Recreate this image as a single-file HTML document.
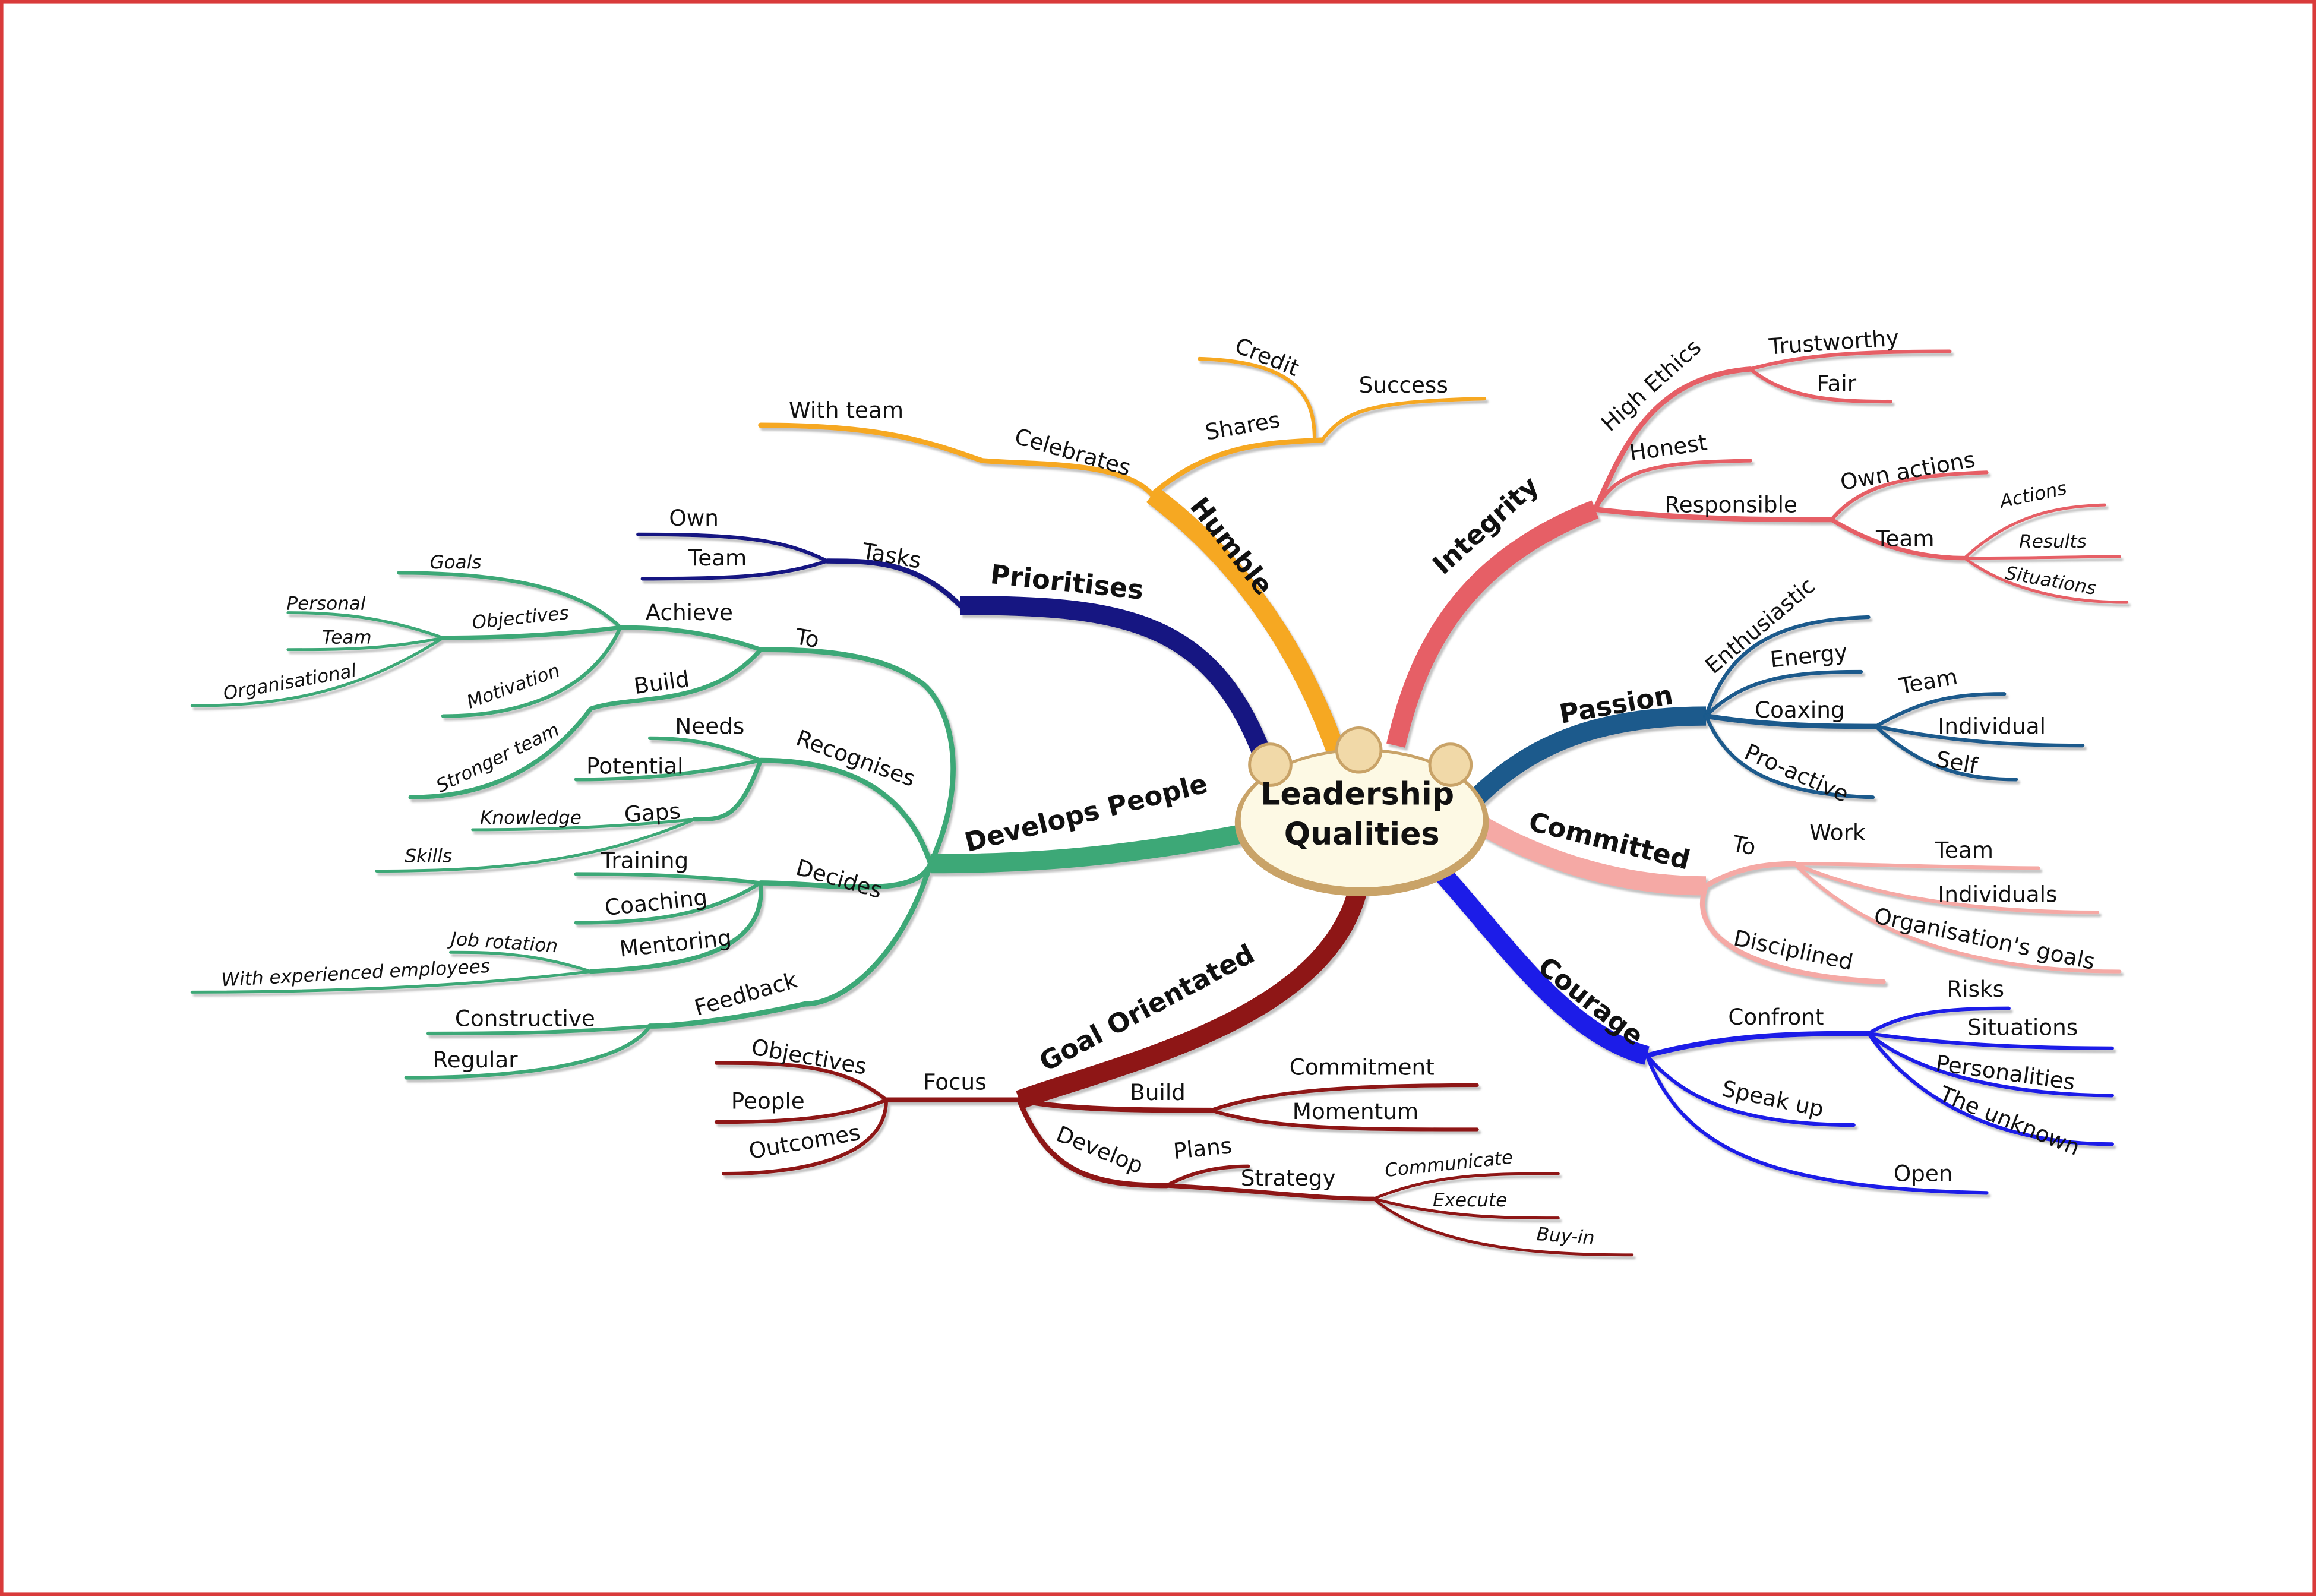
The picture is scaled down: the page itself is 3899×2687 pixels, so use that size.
<!DOCTYPE html>
<html><head><meta charset="utf-8"><style>
html,body{margin:0;padding:0;background:#fff}
svg{display:block}
text{font-family:"DejaVu Sans","Liberation Sans",sans-serif;fill:#111}
.m{font-weight:bold;font-size:18px}
.s{font-size:15px}
.i{font-size:12.5px;font-style:italic}
</style></head><body>
<svg width="3899" height="2687" viewBox="0 0 1568 1081" preserveAspectRatio="none" xmlns="http://www.w3.org/2000/svg">
<defs><filter id="ds" x="-5%" y="-5%" width="110%" height="110%"><feDropShadow dx="1.5" dy="2" stdDeviation="0.6" flood-color="#999" flood-opacity="0.6"/></filter></defs>
<rect x="1" y="1" width="1566" height="1079" fill="#fff" stroke="#d93a3a" stroke-width="2.5"/>
<g fill="none" stroke-linecap="round" filter="url(#ds)">
<!-- HUMBLE orange -->
<g stroke="#f6a823">
<path d="M905,510 C880,440 840,380 780,335" stroke-width="13" stroke-linecap="butt"/>
<path d="M780,335 C760,312 700,315 665,312 C630,300 600,288 515,288" stroke-width="3.5"/>
<path d="M780,335 C820,300 860,300 895,298" stroke-width="3.5"/>
<path d="M890,298 C890,270 880,245 812,243" stroke-width="2.5"/>
<path d="M895,298 C910,280 920,272 1005,270" stroke-width="2.5"/>
</g>
<!-- INTEGRITY red -->
<g stroke="#e65f66">
<path d="M945,505 C960,440 990,380 1080,345" stroke-width="13" stroke-linecap="butt"/>
<path d="M1080,345 C1100,300 1120,255 1185,250" stroke-width="3.5"/>
<path d="M1185,250 C1220,240 1260,238 1320,238" stroke-width="2.5"/>
<path d="M1185,250 C1210,270 1240,272 1280,272" stroke-width="2.5"/>
<path d="M1080,345 C1095,318 1120,313 1185,312" stroke-width="2.5"/>
<path d="M1080,345 C1140,352 1200,352 1240,352" stroke-width="3.5"/>
<path d="M1240,352 C1260,328 1290,322 1345,320" stroke-width="2.5"/>
<path d="M1240,352 C1270,370 1300,378 1330,378" stroke-width="3"/>
<path d="M1330,378 C1360,350 1390,343 1425,342" stroke-width="2"/>
<path d="M1330,378 C1380,378 1410,377 1435,377" stroke-width="2"/>
<path d="M1330,378 C1360,400 1400,408 1440,408" stroke-width="2"/>
</g>
<!-- PASSION -->
<g stroke="#1a5a8c">
<path d="M1000,540 C1040,500 1090,485 1155,485" stroke-width="13" stroke-linecap="butt"/>
<path d="M1155,485 C1170,440 1200,420 1265,418" stroke-width="2.5"/>
<path d="M1155,485 C1180,460 1210,455 1260,455" stroke-width="2.5"/>
<path d="M1155,485 C1200,492 1240,492 1270,492" stroke-width="3.5"/>
<path d="M1270,492 C1300,475 1320,470 1357,470" stroke-width="2.5"/>
<path d="M1270,492 C1320,502 1360,505 1410,505" stroke-width="2.5"/>
<path d="M1270,492 C1300,520 1330,528 1365,528" stroke-width="2.5"/>
<path d="M1155,485 C1170,520 1200,538 1268,540" stroke-width="2.5"/>
</g>
<!-- COMMITTED -->
<g stroke="#f5a9a5">
<path d="M1005,560 C1050,585 1100,600 1155,600" stroke-width="13" stroke-linecap="butt"/>
<path d="M1155,600 C1175,588 1195,585 1215,585" stroke-width="3.5"/>
<path d="M1215,585 C1260,585 1330,588 1380,588" stroke-width="2.5"/>
<path d="M1215,585 C1260,605 1330,618 1420,618" stroke-width="2.5"/>
<path d="M1215,585 C1260,630 1330,658 1435,658" stroke-width="2.5"/>
<path d="M1155,600 C1140,640 1200,662 1275,665" stroke-width="3.5"/>
</g>
<!-- COURAGE -->
<g stroke="#1b1be8">
<path d="M975,590 C1020,640 1060,700 1115,715" stroke-width="13" stroke-linecap="butt"/>
<path d="M1115,715 C1170,700 1220,700 1265,700" stroke-width="3.5"/>
<path d="M1265,700 C1290,685 1320,683 1360,683" stroke-width="2.5"/>
<path d="M1265,700 C1320,708 1380,710 1430,710" stroke-width="2.5"/>
<path d="M1265,700 C1300,730 1370,742 1430,742" stroke-width="2.5"/>
<path d="M1265,700 C1300,750 1360,775 1430,775" stroke-width="2.5"/>
<path d="M1115,715 C1140,745 1180,762 1255,762" stroke-width="2.5"/>
<path d="M1115,715 C1140,780 1200,805 1345,808" stroke-width="2.5"/>
</g>
<!-- GOAL ORIENTATED -->
<g stroke="#8e1414">
<path d="M920,600 C900,690 760,720 690,745" stroke-width="13" stroke-linecap="butt"/>
<path d="M690,745 C660,745 630,745 600,745" stroke-width="3.5"/>
<path d="M600,745 C570,720 530,720 485,720" stroke-width="2.5"/>
<path d="M600,745 C570,758 530,760 485,760" stroke-width="2.5"/>
<path d="M600,745 C600,785 540,795 490,795" stroke-width="2.5"/>
<path d="M690,745 C720,752 780,752 820,752" stroke-width="3.5"/>
<path d="M820,752 C860,738 920,735 1000,735" stroke-width="2.5"/>
<path d="M820,752 C860,765 920,765 1000,765" stroke-width="2.5"/>
<path d="M690,745 C710,795 740,803 790,803" stroke-width="3.5"/>
<path d="M790,803 C810,792 830,790 845,790" stroke-width="2.5"/>
<path d="M790,803 C850,806 890,812 930,812" stroke-width="3"/>
<path d="M930,812 C970,795 1010,795 1055,795" stroke-width="2"/>
<path d="M930,812 C980,825 1020,825 1055,825" stroke-width="2"/>
<path d="M930,812 C970,845 1040,850 1105,850" stroke-width="2"/>
</g>
<!-- PRIORITISES -->
<g stroke="#141482">
<path d="M855,512 C820,420 760,410 650,410" stroke-width="13" stroke-linecap="butt"/>
<path d="M650,410 C620,380 590,380 560,380" stroke-width="3.5"/>
<path d="M560,380 C530,365 500,362 432,362" stroke-width="2.5"/>
<path d="M560,380 C530,390 500,392 435,392" stroke-width="2.5"/>
</g>
<!-- DEVELOPS PEOPLE -->
<g stroke="#3ea877">
<path d="M840,565 C760,580 700,585 630,585" stroke-width="13" stroke-linecap="butt"/>
<path d="M630,585 C660,520 640,470 620,460 C590,440 540,440 515,440" stroke-width="3.5"/>
<path d="M515,440 C480,428 450,425 420,425" stroke-width="3"/>
<path d="M420,425 C380,430 340,432 300,432" stroke-width="3"/>
<path d="M420,425 C390,395 330,388 270,388" stroke-width="2.5"/>
<path d="M420,425 C400,470 350,485 300,485" stroke-width="2.5"/>
<path d="M300,432 C260,418 230,415 195,415" stroke-width="2"/>
<path d="M300,432 C260,440 230,440 195,440" stroke-width="2"/>
<path d="M300,432 C240,470 190,478 130,478" stroke-width="2"/>
<path d="M515,440 C480,480 430,470 400,480 C370,520 330,540 278,540" stroke-width="3"/>
<path d="M630,585 C615,540 580,515 515,515" stroke-width="3.5"/>
<path d="M515,515 C490,505 470,500 440,500" stroke-width="2.5"/>
<path d="M515,515 C470,525 430,528 390,528" stroke-width="2.5"/>
<path d="M515,515 C500,555 490,555 470,555" stroke-width="3"/>
<path d="M470,555 C420,560 370,562 320,562" stroke-width="2"/>
<path d="M470,555 C400,585 330,590 255,590" stroke-width="2"/>
<path d="M630,585 C620,610 560,598 515,598" stroke-width="3.5"/>
<path d="M515,598 C460,592 420,592 390,592" stroke-width="2.5"/>
<path d="M515,598 C480,620 440,625 390,625" stroke-width="2.5"/>
<path d="M515,598 C520,650 450,655 400,658" stroke-width="3"/>
<path d="M400,658 C360,645 330,645 305,645" stroke-width="2"/>
<path d="M400,658 C300,670 200,672 130,672" stroke-width="2"/>
<path d="M630,585 C610,650 570,680 545,680 C500,690 460,695 440,695" stroke-width="3.5"/>
<path d="M440,695 C380,700 330,700 290,700" stroke-width="2.5"/>
<path d="M440,695 C420,725 330,730 275,730" stroke-width="2.5"/>
</g>
</g>
<!-- centre node -->
<ellipse cx="922" cy="557" rx="86" ry="50" fill="#c9a368"/>
<ellipse cx="922" cy="555" rx="82" ry="46" fill="#fdf9e4"/>
<circle cx="860" cy="518" r="14" fill="#f1d9a8" stroke="#c9a368" stroke-width="2"/>
<circle cx="920" cy="508" r="15" fill="#f1d9a8" stroke="#c9a368" stroke-width="2"/>
<circle cx="982" cy="518" r="14" fill="#f1d9a8" stroke="#c9a368" stroke-width="2"/>
<text x="919" y="545" text-anchor="middle" style="font-weight:bold;font-size:21px">Leadership</text>
<text x="922" y="572" text-anchor="middle" style="font-weight:bold;font-size:21px">Qualities</text>
<!-- main labels -->
<text class="m" transform="translate(805,343) rotate(52)">Humble</text>
<text class="m" transform="translate(977,390) rotate(-42)">Integrity</text>
<text class="m" transform="translate(1057,490) rotate(-10)">Passion</text>
<text class="m" transform="translate(1034,562) rotate(14)">Committed</text>
<text class="m" transform="translate(1040,657) rotate(38)">Courage</text>
<text class="m" transform="translate(708,726) rotate(-28)">Goal Orientated</text>
<text class="m" transform="translate(670,395) rotate(6)">Prioritises</text>
<text class="m" transform="translate(655,577) rotate(-14)">Develops People</text>
<!-- humble -->
<text class="s" x="534" y="283">With team</text>
<text class="s" transform="translate(686,300) rotate(16)">Celebrates</text>
<text class="s" transform="translate(817,298) rotate(-10)">Shares</text>
<text class="s" transform="translate(835,238) rotate(22)">Credit</text>
<text class="s" x="920" y="266">Success</text>
<!-- integrity -->
<text class="s" transform="translate(1090,293) rotate(-42)">High Ethics</text>
<text class="s" transform="translate(1198,240) rotate(-4)">Trustworthy</text>
<text class="s" x="1230" y="265">Fair</text>
<text class="s" transform="translate(1104,312) rotate(-8)">Honest</text>
<text class="s" x="1127" y="347">Responsible</text>
<text class="s" transform="translate(1247,332) rotate(-10)">Own actions</text>
<text class="s" x="1270" y="370">Team</text>
<text class="i" transform="translate(1355,344) rotate(-12)">Actions</text>
<text class="i" x="1367" y="371">Results</text>
<text class="i" transform="translate(1357,392) rotate(10)">Situations</text>
<!-- passion -->
<text class="s" transform="translate(1160,457) rotate(-40)">Enthusiastic</text>
<text class="s" transform="translate(1199,452) rotate(-6)">Energy</text>
<text class="s" x="1188" y="486">Coaxing</text>
<text class="s" transform="translate(1287,470) rotate(-10)">Team</text>
<text class="s" x="1312" y="497">Individual</text>
<text class="s" transform="translate(1310,519) rotate(10)">Self</text>
<text class="s" transform="translate(1180,513) rotate(24)">Pro-active</text>
<!-- committed -->
<text class="s" transform="translate(1172,576) rotate(12)">To</text>
<text class="s" x="1225" y="569">Work</text>
<text class="s" x="1310" y="581">Team</text>
<text class="s" x="1312" y="611">Individuals</text>
<text class="s" transform="translate(1268,625) rotate(12)">Organisation's goals</text>
<text class="s" transform="translate(1173,640) rotate(12)">Disciplined</text>
<!-- courage -->
<text class="s" x="1170" y="694">Confront</text>
<text class="s" x="1318" y="675">Risks</text>
<text class="s" x="1332" y="701">Situations</text>
<text class="s" transform="translate(1310,725) rotate(8)">Personalities</text>
<text class="s" transform="translate(1312,745) rotate(22)">The unknown</text>
<text class="s" transform="translate(1165,742) rotate(12)">Speak up</text>
<text class="s" x="1282" y="800">Open</text>
<!-- goal -->
<text class="s" x="625" y="738">Focus</text>
<text class="s" transform="translate(508,714) rotate(10)">Objectives</text>
<text class="s" x="495" y="751">People</text>
<text class="s" transform="translate(508,785) rotate(-10)">Outcomes</text>
<text class="s" x="765" y="745">Build</text>
<text class="s" x="873" y="728">Commitment</text>
<text class="s" x="875" y="758">Momentum</text>
<text class="s" transform="translate(714,772) rotate(22)">Develop</text>
<text class="s" transform="translate(795,785) rotate(-6)">Plans</text>
<text class="s" x="840" y="803">Strategy</text>
<text class="i" transform="translate(938,797) rotate(-6)">Communicate</text>
<text class="i" x="970" y="817">Execute</text>
<text class="i" transform="translate(1040,840) rotate(4)">Buy-in</text>
<!-- prioritises -->
<text class="s" transform="translate(583,378) rotate(10)">Tasks</text>
<text class="s" x="453" y="356">Own</text>
<text class="s" x="466" y="383">Team</text>
<!-- develops -->
<text class="s" transform="translate(538,436) rotate(10)">To</text>
<text class="s" x="437" y="420">Achieve</text>
<text class="i" x="291" y="385">Goals</text>
<text class="i" transform="translate(320,426) rotate(-6)">Objectives</text>
<text class="i" x="194" y="413">Personal</text>
<text class="i" x="218" y="436">Team</text>
<text class="i" transform="translate(152,474) rotate(-10)">Organisational</text>
<text class="i" transform="translate(318,480) rotate(-20)">Motivation</text>
<text class="s" transform="translate(430,470) rotate(-8)">Build</text>
<text class="i" transform="translate(298,537) rotate(-26)">Stronger team</text>
<text class="s" x="457" y="497">Needs</text>
<text class="s" transform="translate(538,504) rotate(20)">Recognises</text>
<text class="s" x="397" y="524">Potential</text>
<text class="s" transform="translate(423,557) rotate(-4)">Gaps</text>
<text class="i" x="325" y="558">Knowledge</text>
<text class="i" x="274" y="584">Skills</text>
<text class="s" x="407" y="588">Training</text>
<text class="s" transform="translate(538,592) rotate(16)">Decides</text>
<text class="s" transform="translate(410,620) rotate(-6)">Coaching</text>
<text class="s" transform="translate(420,648) rotate(-6)">Mentoring</text>
<text class="i" transform="translate(305,640) rotate(4)">Job rotation</text>
<text class="i" transform="translate(150,668) rotate(-3)">With experienced employees</text>
<text class="s" transform="translate(472,688) rotate(-16)">Feedback</text>
<text class="s" x="308" y="695">Constructive</text>
<text class="s" x="293" y="723">Regular</text>
</svg>
</body></html>
